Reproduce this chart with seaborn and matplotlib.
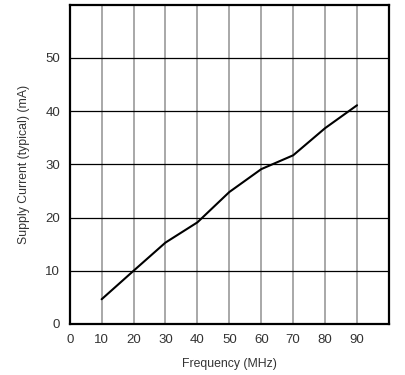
import matplotlib
matplotlib.use("Agg")
import matplotlib.pyplot as plt
import seaborn as sns
import pandas as pd

freq = [10, 20, 30, 40, 50, 60, 70, 80, 90]
current = [4.65, 10.0, 15.3, 19.1, 24.8, 29.1, 31.7, 36.8, 41.1]
xticks = [0, 10, 20, 30, 40, 50, 60, 70, 80, 90]
yticks = [0, 10, 20, 30, 40, 50]

sns.set_theme(style="white")
plt.rcParams['font.family'] = ['Liberation Sans', 'DejaVu Sans']

df = pd.DataFrame({"Frequency (MHz)": freq, "Supply Current (typical) (mA)": current})

fig = plt.figure(figsize=(4.06, 3.75), dpi=100)
ax = fig.add_axes([0.1717, 0.136, 0.958 - 0.1717, 0.9875 - 0.136])

ax.set_xlim(0, 100)
ax.set_ylim(0, 60)
for x in range(10, 100, 10):
    ax.axvline(x, color="#999999", lw=1.2, zorder=1)
for y in range(10, 60, 10):
    ax.axhline(y, color="black", lw=0.9, zorder=1)

sns.lineplot(data=df, x="Frequency (MHz)", y="Supply Current (typical) (mA)",
             ax=ax, color="black", lw=1.5, zorder=3)

ax.set_xticks(xticks)
ax.set_yticks(yticks)
ax.tick_params(length=0, pad=7, labelsize=9.5, colors="#333333")
ax.set_xlabel("Frequency (MHz)", fontsize=8.8, color="#333333", labelpad=9)
ax.set_ylabel("Supply Current (typical) (mA)", fontsize=8.8, color="#333333", labelpad=11)
for s in ax.spines.values():
    s.set_visible(True)
    s.set_color("black")
    s.set_linewidth(1.6)

fig.savefig("out.png", dpi=100)
